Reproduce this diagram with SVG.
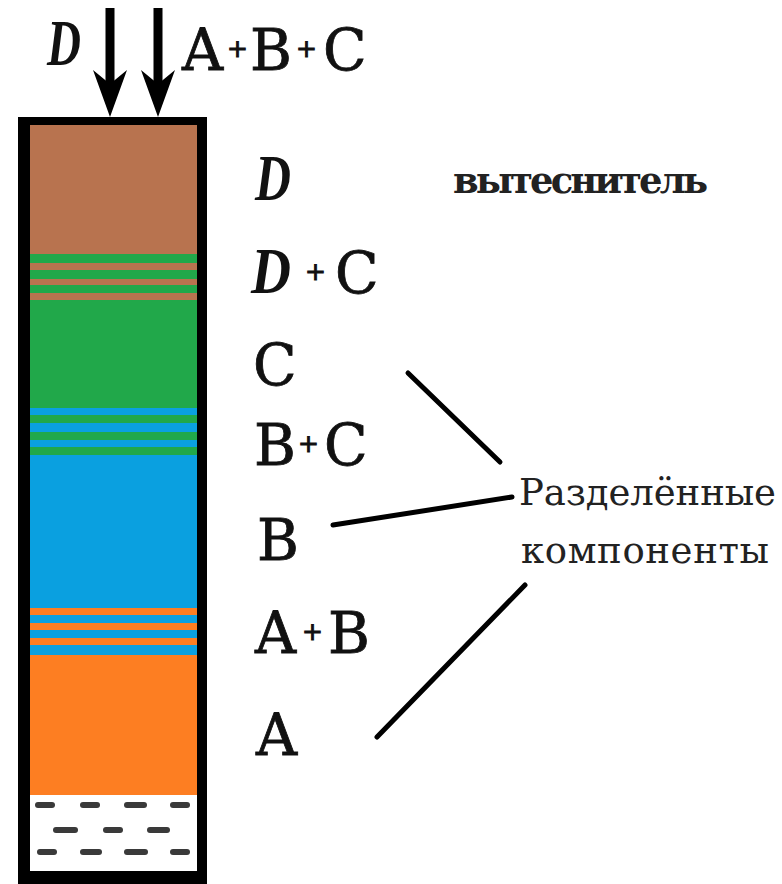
<svg xmlns="http://www.w3.org/2000/svg" width="782" height="884" viewBox="0 0 782 884">
<style>
.lbl{font-family:"DejaVu Serif","Liberation Serif",serif;font-size:57px;fill:#111;stroke:#111;stroke-width:0.8}
.pl{font-size:25px;stroke-width:1}
.dd{font-family:"Liberation Serif",serif;font-style:italic;font-weight:bold;font-size:66px;fill:#111}
.txt{font-family:"DejaVu Serif","Liberation Serif",serif;font-size:37px;fill:#222}
.brown{fill:#b8734f}.green{fill:#21a84a}.blue{fill:#0aa0e0}.orange{fill:#fd7e22}
.dash{fill:#3a3a3a}
.conn{stroke:#000;stroke-width:5;stroke-linecap:round;fill:none}
.arr{stroke:#000;stroke-width:9;fill:none}
</style>
<defs>
<marker id="ah" markerUnits="userSpaceOnUse" viewBox="-30 -18 48 36" refX="0" refY="0" markerWidth="48" markerHeight="36" orient="auto">
<path d="M17,0 L-30,-17 L-16,0 L-30,17 Z" fill="#000"/>
</marker>
</defs>
<rect width="782" height="884" fill="#fff"/>
<g id="column">
<rect x="18" y="117" width="189" height="767" fill="#000"/>
<rect x="30" y="125" width="167" height="129" class="brown"/>
<rect x="30" y="254" width="167" height="9" class="green"/>
<rect x="30" y="263" width="167" height="7" class="brown"/>
<rect x="30" y="270" width="167" height="9" class="green"/>
<rect x="30" y="279" width="167" height="6" class="brown"/>
<rect x="30" y="285" width="167" height="8" class="green"/>
<rect x="30" y="293" width="167" height="7" class="brown"/>
<rect x="30" y="300" width="167" height="108" class="green"/>
<rect x="30" y="408" width="167" height="7" class="blue"/>
<rect x="30" y="415" width="167" height="8" class="green"/>
<rect x="30" y="423" width="167" height="9" class="blue"/>
<rect x="30" y="432" width="167" height="8" class="green"/>
<rect x="30" y="440" width="167" height="7" class="blue"/>
<rect x="30" y="447" width="167" height="8" class="green"/>
<rect x="30" y="455" width="167" height="153" class="blue"/>
<rect x="30" y="608" width="167" height="7" class="orange"/>
<rect x="30" y="615" width="167" height="8" class="blue"/>
<rect x="30" y="623" width="167" height="7" class="orange"/>
<rect x="30" y="630" width="167" height="8" class="blue"/>
<rect x="30" y="638" width="167" height="7" class="orange"/>
<rect x="30" y="645" width="167" height="10" class="blue"/>
<rect x="30" y="655" width="167" height="140" class="orange"/>
<rect x="30" y="795" width="167" height="76" fill="#fff"/>
<rect x="35" y="802" width="20" height="6" rx="3" class="dash"/>
<rect x="80" y="802" width="20" height="6" rx="3" class="dash"/>
<rect x="124" y="802" width="23" height="6" rx="3" class="dash"/>
<rect x="170" y="802" width="20" height="6" rx="3" class="dash"/>
<rect x="53" y="827" width="25" height="6" rx="3" class="dash"/>
<rect x="103" y="827" width="20" height="6" rx="3" class="dash"/>
<rect x="147" y="827" width="23" height="6" rx="3" class="dash"/>
<rect x="37" y="849" width="20" height="6" rx="3" class="dash"/>
<rect x="80" y="849" width="22" height="6" rx="3" class="dash"/>
<rect x="124" y="849" width="24" height="6" rx="3" class="dash"/>
<rect x="170" y="849" width="20" height="6" rx="3" class="dash"/>
</g>
<g id="connectors">
<line class="arr" x1="110" y1="8" x2="110" y2="100" marker-end="url(#ah)"/>
<line class="arr" x1="158" y1="8" x2="158" y2="100" marker-end="url(#ah)"/>
<line class="conn" x1="408" y1="373" x2="500" y2="462"/>
<line class="conn" x1="333" y1="525" x2="512" y2="497"/>
<line class="conn" x1="377" y1="737" x2="525" y2="585"/>
</g>
<g id="feed-labels">
<text class="dd" x="47" y="65" textLength="34" lengthAdjust="spacingAndGlyphs">D</text>
<text class="lbl" y="70"><tspan x="182">A</tspan><tspan class="pl" x="227" dy="-13">+</tspan><tspan x="250" dy="13">B</tspan><tspan class="pl" x="296" dy="-13">+</tspan><tspan x="323" dy="13">C</tspan></text>
</g>
<g id="label-D">
<text class="dd" x="255" y="200" textLength="36" lengthAdjust="spacingAndGlyphs">D</text>
<text class="txt" x="453" y="193" font-weight="bold" textLength="255">вытеснитель</text>
</g>
<g id="label-DC">
<text class="dd" x="251" y="293" textLength="40" lengthAdjust="spacingAndGlyphs">D</text>
<text class="lbl" y="293"><tspan class="pl" x="305" dy="-13">+</tspan><tspan x="335" dy="13">C</tspan></text>
</g>
<g id="label-C"><text class="lbl" x="253" y="385">C</text></g>
<g id="label-BC"><text class="lbl" y="465"><tspan x="254">B</tspan><tspan class="pl" x="298" dy="-13">+</tspan><tspan x="324" dy="13">C</tspan></text></g>
<g id="label-B"><text class="lbl" x="257" y="560">B</text></g>
<g id="label-AB"><text class="lbl" y="653"><tspan x="255">A</tspan><tspan class="pl" x="302" dy="-13">+</tspan><tspan x="328" dy="13">B</tspan></text></g>
<g id="label-A"><text class="lbl" x="256" y="755">A</text></g>
<g id="separated">
<text class="txt" x="519" y="505" textLength="257">Разделённые</text>
<text class="txt" x="521" y="563" textLength="248">компоненты</text>
</g>
</svg>
